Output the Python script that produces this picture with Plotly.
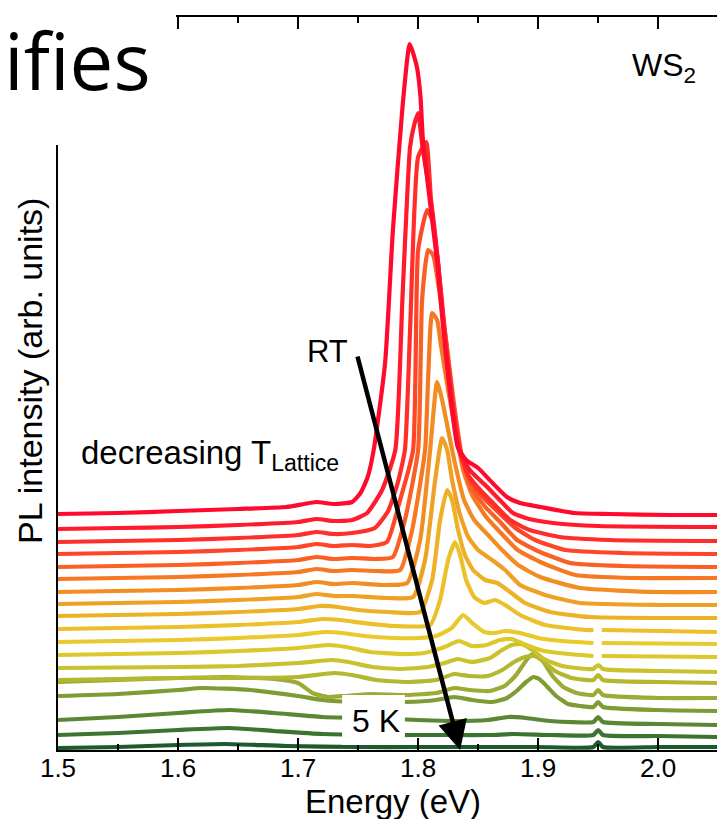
import plotly.graph_objects as go

# Temperature-dependent PL spectra of WS2, from room temperature (top) down to 5 K (bottom).
# Each spectrum: (energy in eV, PL intensity in arb. units above its own baseline).
spec_01 = [(1.500, 1), (1.550, 2), (1.600, 4), (1.650, 6), (1.690, 8), (1.705, 11), (1.715, 13), (1.730, 11),
           (1.745, 13), (1.752, 22), (1.758, 38), (1.763, 65), (1.7725, 152), (1.779, 285), (1.787, 408),
           (1.793, 471), (1.799, 448), (1.802, 418), (1.804, 375), (1.810, 312), (1.816, 252), (1.821, 185),
           (1.827, 118), (1.833, 68), (1.840, 55), (1.850, 47), (1.862, 32), (1.874, 18), (1.885, 12),
           (1.902, 8), (1.930, 2), (1.960, 1), (2.010, 0), (2.049, 0)]
spec_02 = [(1.500, -2), (1.550, -1), (1.600, 0), (1.650, 2), (1.700, 5), (1.715, 8), (1.730, 6), (1.745, 7),
           (1.7575, 14), (1.770, 37), (1.781, 77), (1.787, 230), (1.7933, 380), (1.7967, 402), (1.800, 414),
           (1.8025, 392), (1.804, 377), (1.811, 324), (1.8167, 264), (1.8217, 197), (1.8275, 130), (1.834, 77),
           (1.843, 57), (1.8575, 40), (1.868, 27), (1.879, 14), (1.8925, 8), (1.9125, 4), (1.950, 1), (2.049, 0)]
spec_03 = [(1.500, -1), (1.600, 1), (1.650, 3), (1.700, 6), (1.715, 9), (1.730, 7), (1.745, 8), (1.764, 13),
           (1.775, 30), (1.783, 58), (1.789, 91), (1.7933, 211), (1.800, 384), (1.8067, 399), (1.811, 336),
           (1.8167, 276), (1.8217, 209), (1.8283, 141), (1.835, 89), (1.8417, 66), (1.8517, 51), (1.864, 36),
           (1.8767, 21), (1.893, 11), (1.918, 4), (1.960, 1), (2.049, 0)]
spec_04 = [(1.500, 0), (1.600, 2), (1.650, 4), (1.700, 7), (1.715, 10), (1.730, 8), (1.745, 9), (1.760, 8),
           (1.774, 12), (1.785, 54), (1.7958, 104), (1.800, 304), (1.8075, 344), (1.8117, 334), (1.8167, 289),
           (1.8225, 221), (1.829, 152), (1.836, 99), (1.843, 74), (1.854, 57), (1.8667, 42), (1.881, 26),
           (1.8975, 14), (1.9225, 4), (1.970, 1), (2.049, 0)]
spec_05 = [(1.500, 0), (1.600, 2), (1.650, 4), (1.700, 7), (1.715, 10), (1.730, 8), (1.745, 9), (1.765, 8),
           (1.779, 10), (1.789, 47), (1.800, 117), (1.8033, 267), (1.8083, 317), (1.8125, 312), (1.8175, 277),
           (1.8233, 227), (1.830, 162), (1.8367, 109), (1.844, 80), (1.856, 60), (1.8683, 45), (1.8825, 27),
           (1.9017, 15), (1.9267, 4), (1.970, 1), (2.049, 0)]
spec_06 = [(1.500, -1), (1.600, 1), (1.650, 3), (1.700, 6), (1.715, 9), (1.730, 7), (1.745, 8), (1.765, 7),
           (1.785, 8), (1.795, 48), (1.8058, 128), (1.8083, 198), (1.8117, 265), (1.8158, 258), (1.819, 233),
           (1.825, 188), (1.831, 148), (1.8375, 108), (1.845, 83), (1.8567, 61), (1.869, 45), (1.883, 28),
           (1.9017, 16), (1.931, 3), (1.980, 0), (2.049, 0)]
spec_07 = [(1.500, 0), (1.600, 2), (1.650, 4), (1.700, 7), (1.715, 10), (1.730, 8), (1.745, 9), (1.770, 7),
           (1.7908, 9), (1.8017, 52), (1.810, 142), (1.8158, 210), (1.820, 192), (1.825, 162), (1.831, 127),
           (1.8383, 92), (1.8467, 72), (1.8583, 57), (1.870, 42), (1.8833, 27), (1.9017, 15), (1.935, 4),
           (2.000, 0), (2.049, 0)]
spec_08 = [(1.500, 1), (1.600, 3), (1.650, 5), (1.700, 8), (1.715, 11), (1.730, 9), (1.745, 9), (1.775, 7),
           (1.7958, 8), (1.8058, 45), (1.8142, 125), (1.820, 167), (1.8242, 155), (1.8283, 125), (1.835, 90),
           (1.8417, 68), (1.850, 55), (1.8617, 45), (1.8725, 35), (1.885, 20), (1.9058, 10), (1.935, 2),
           (2.000, 0), (2.049, 0)]
spec_09 = [(1.500, 2), (1.600, 4), (1.650, 6), (1.700, 9), (1.718, 12), (1.733, 11), (1.750, 8), (1.775, 6),
           (1.8017, 6), (1.8117, 38), (1.8183, 98), (1.8242, 128), (1.8283, 118), (1.8333, 88), (1.839, 63),
           (1.8458, 48), (1.856, 38), (1.866, 35), (1.8767, 26), (1.889, 15), (1.910, 6), (1.9433, 1), (2.049, 0)]
spec_10 = [(1.500, 3), (1.600, 5), (1.650, 7), (1.700, 10), (1.720, 13), (1.735, 12), (1.755, 9), (1.780, 6),
           (1.810, 7), (1.8183, 32), (1.825, 72), (1.8308, 90), (1.835, 77), (1.840, 52), (1.8467, 35),
           (1.855, 29), (1.8642, 32), (1.8725, 27), (1.885, 17), (1.9058, 7), (1.940, 2), (1.946, 2),
           (1.9495, None), (1.953, 2), (2.049, 0)]
spec_11 = [(1.500, 2), (1.600, 4), (1.650, 6), (1.700, 9), (1.722, 12), (1.737, 11), (1.755, 8), (1.780, 6),
           (1.800, 6), (1.815, 8), (1.828, 16), (1.8375, 29), (1.845, 21), (1.855, 12), (1.864, 11),
           (1.8725, 13), (1.885, 11), (1.900, 6), (1.920, 3), (1.946, 1), (1.9495, None), (1.953, 1), (2.049, 0)]
spec_12 = [(1.500, 2), (1.600, 4), (1.650, 6), (1.700, 9), (1.725, 12), (1.740, 10), (1.760, 5), (1.785, 3),
           (1.805, 4), (1.822, 10), (1.834, 16), (1.845, 11), (1.857, 12), (1.868, 17), (1.878, 18), (1.890, 12),
           (1.905, 6), (1.925, 3), (1.946, 1), (1.9495, None), (1.953, 1), (2.049, 0)]
spec_13 = [(1.500, 4), (1.600, 5), (1.650, 6), (1.700, 9), (1.728, 12), (1.742, 10), (1.762, 5), (1.785, 3),
           (1.808, 5), (1.822, 9), (1.833, 13), (1.845, 10), (1.860, 14), (1.870, 22), (1.878, 27), (1.886, 28),
           (1.895, 22), (1.905, 13), (1.920, 6), (1.940, 3), (1.946, 3), (1.950, 7), (1.954, 3), (2.000, 1),
           (2.049, 0)]
spec_14 = [(1.500, 3), (1.550, 4), (1.600, 5), (1.650, 5), (1.700, 6), (1.730, 10), (1.745, 8), (1.765, 3),
           (1.790, 1), (1.815, 3), (1.830, 9), (1.842, 7), (1.858, 7), (1.870, 13), (1.880, 21), (1.889, 26),
           (1.897, 27), (1.905, 21), (1.914, 12), (1.928, 5), (1.946, 3), (1.950, 8), (1.954, 3), (2.000, 1),
           (2.049, 0)]
spec_15 = [(1.500, 16), (1.550, 18), (1.600, 20), (1.640, 21), (1.680, 19), (1.700, 15), (1.712, 5), (1.725, 1),
           (1.740, 2), (1.760, 4), (1.790, 3), (1.815, 5), (1.830, 10), (1.843, 8), (1.860, 7), (1.872, 12),
           (1.881, 22), (1.888, 34), (1.894, 43), (1.899, 44), (1.905, 35), (1.912, 22), (1.921, 11), (1.932, 5),
           (1.946, 3), (1.950, 8), (1.954, 3), (2.000, 0), (2.049, 0)]
spec_16 = [(1.500, 14), (1.550, 16), (1.600, 20), (1.620, 22), (1.660, 20), (1.700, 14), (1.720, 10), (1.750, 8),
           (1.790, 8), (1.815, 10), (1.830, 13), (1.845, 10), (1.862, 8), (1.874, 12), (1.883, 20), (1.890, 28),
           (1.896, 33), (1.901, 31), (1.907, 24), (1.915, 14), (1.925, 6), (1.935, 4), (1.946, 3), (1.950, 8),
           (1.954, 3), (2.000, 0), (2.049, -1)]
spec_17 = [(1.500, 5), (1.550, 8), (1.600, 12), (1.643, 15), (1.680, 12), (1.720, 8), (1.760, 7), (1.800, 5),
           (1.830, 4), (1.858, 5), (1.875, 8), (1.890, 7), (1.910, 4), (1.946, 3), (1.950, 8), (1.954, 3),
           (2.000, 1), (2.049, 0)]
spec_18 = [(1.500, 2), (1.550, 4), (1.600, 7), (1.643, 9), (1.680, 6), (1.720, 3), (1.760, 2), (1.800, 2),
           (1.830, 2), (1.860, 2), (1.880, 3), (1.910, 2), (1.946, 2), (1.950, 7), (1.954, 2), (2.000, 1),
           (2.049, 0)]
spec_19 = [(1.500, 0), (1.550, 1), (1.600, 3), (1.640, 4), (1.690, 2), (1.750, 1), (1.800, 1), (1.850, 1),
           (1.900, 1), (1.946, 1), (1.950, 6), (1.954, 1), (2.000, 1), (2.049, 1)]

spectra = [spec_01, spec_02, spec_03, spec_04, spec_05, spec_06, spec_07, spec_08, spec_09, spec_10,
           spec_11, spec_12, spec_13, spec_14, spec_15, spec_16, spec_17, spec_18, spec_19]

# Waterfall offsets and colours (hot -> cold)
offsets = [235, 223, 209, 196, 183, 172, 158, 145, 132, 118, 106, 93, 78, 67, 52, 40, 25, 13, 2]
colors = ['#ff0a2e', '#ff1a2c', '#ff2e2a', '#fe4527', '#fa5f24', '#f67822', '#f28d24', '#efa126',
          '#edb128', '#ecc02a', '#e9c92b', '#dcc82c', '#c8c22e', '#b4b831', '#9cab33', '#7f9c33',
          '#5a8733', '#3a742f', '#1d5b2f']

X_RANGE = [1.5, 2.049]
Y_RANGE = [0, 733]
W, H = 717, 819
ML, MR, MT, MB = 58, 0, 17, 69
PW, PH = W - ML - MR, H - MT - MB


def px(x):
    return (x - ML) / PW


def py(y):
    return (H - MB - y) / PH


FONT = "Liberation Sans, Arial, sans-serif"

fig = go.Figure()
# colder (lower) spectra first so the hot traces sit on top
for spec, off, col in reversed(list(zip(spectra, offsets, colors))):
    e = [p[0] for p in spec]
    v = [None if p[1] is None else p[1] + off for p in spec]
    fig.add_trace(go.Scatter(x=e, y=v, mode="lines", line=dict(color=col, width=4.2, shape="spline", smoothing=0.5),
                             connectgaps=False, hoverinfo="skip"))

fig.update_layout(
    width=W, height=H, margin=dict(l=ML, r=MR, t=MT, b=MB),
    paper_bgcolor="white", plot_bgcolor="white", showlegend=False,
    font=dict(family=FONT, color="black"),
    xaxis=dict(range=X_RANGE, showline=True, linecolor="black", linewidth=2, mirror="ticks",
               ticks="inside", ticklen=12, tickwidth=2, tickcolor="black", tick0=1.5, dtick=0.1,
               tickformat=".1f", tickfont=dict(size=26, family=FONT), ticklabelstandoff=-6,
               showgrid=False, zeroline=False,
               minor=dict(ticks="inside", ticklen=6, tickwidth=2, tickcolor="black", dtick=0.05, showgrid=False)),
    yaxis=dict(range=Y_RANGE, showline=True, linecolor="black", linewidth=2, ticks="",
               showticklabels=False, showgrid=False, zeroline=False),
)

# white panel behind the slide heading, and behind the "5 K" label
fig.add_shape(type="rect", xref="paper", yref="paper", x0=px(-5), x1=px(176), y0=py(145), y1=py(-5),
              fillcolor="white", line=dict(width=0), layer="above")
fig.add_shape(type="rect", xref="x", yref="y", x0=1.7367, x1=1.789, y0=5, y1=55,
              fillcolor="white", line=dict(width=0), layer="above")

ann = [
    dict(text="ifies", x=px(153), y=py(60), xanchor="right", yanchor="middle",
         font=dict(size=78, family="Open Sans, sans-serif")),
    dict(text="WS<sub>2</sub>", x=px(664), y=py(68), xanchor="center", yanchor="middle",
         font=dict(size=32)),
    dict(text="PL intensity (arb. units)", x=px(30), y=py(371), textangle=-90, xanchor="center",
         yanchor="middle", font=dict(size=34)),
    dict(text="Energy (eV)", x=px(393), y=py(802), xanchor="center", yanchor="middle", font=dict(size=33)),
    dict(text="RT", x=px(327), y=py(351), xanchor="center", yanchor="middle", font=dict(size=31)),
    dict(text="decreasing T<sub>Lattice</sub>", x=px(79), y=py(455), xanchor="left", yanchor="middle",
         font=dict(size=33)),
    dict(text="5 K", x=px(376), y=py(721), xanchor="center", yanchor="middle", font=dict(size=32)),
]
for a in ann:
    fig.add_annotation(xref="paper", yref="paper", showarrow=False, **a)

# temperature arrow from RT down to 5 K
fig.add_annotation(x=1.835, y=0, xref="x", yref="y", ax=-103, ay=-395, axref="pixel", ayref="pixel",
                   text="", showarrow=True, arrowhead=2, arrowsize=1.3, arrowwidth=4.5, arrowcolor="black",
                   standoff=0)

fig.write_html("out.html")
